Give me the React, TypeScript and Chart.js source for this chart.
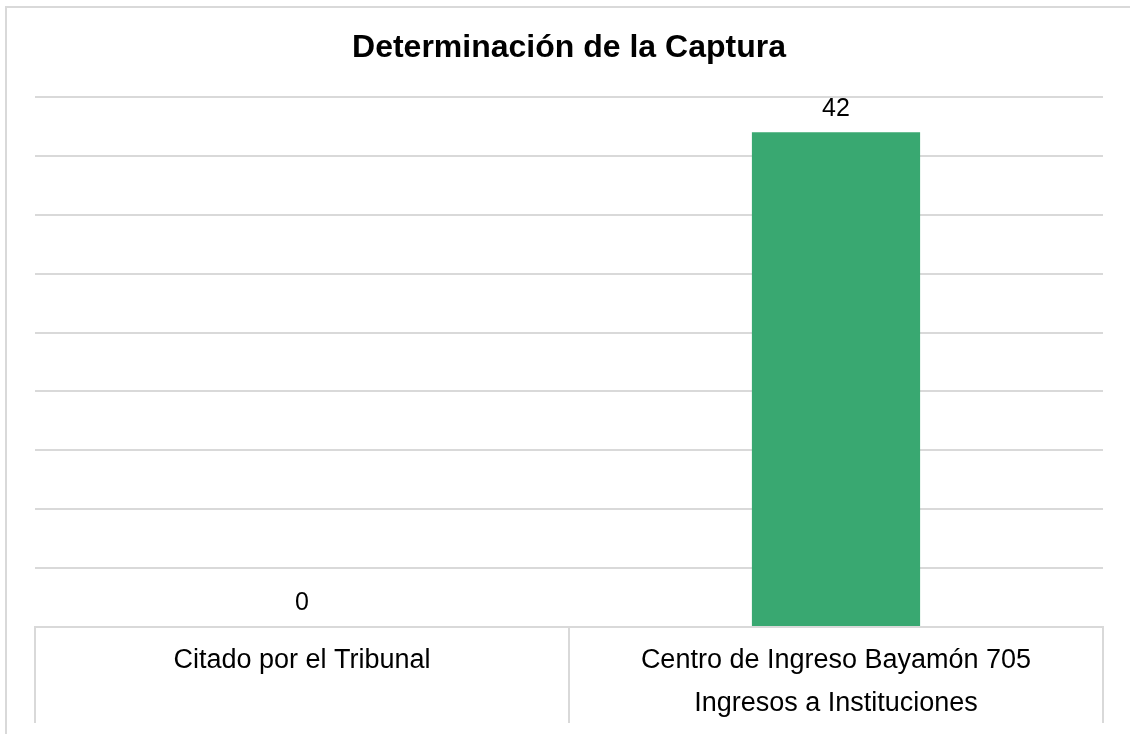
import React, { useEffect, useRef } from "react";
import { Chart, registerables } from "chart.js";

Chart.register(...registerables);

const TITLE = "Determinación de la Captura";
const categories: string[][] = [
  ["Citado por el Tribunal"],
  ["Centro de Ingreso Bayamón 705", "Ingresos a Instituciones"],
];
const values: number[] = [0, 42];
const Y_MIN = 0;
const Y_MAX = 45;
const Y_STEP = 5;

const FONT = "'Liberation Sans', Arial, sans-serif";
const GRID = "#d9d9d9";
const BAR = "rgb(57,168,113)";

const valueLabels = {
  id: "valueLabels",
  afterDatasetsDraw(chart: any) {
    const ctx = chart.ctx;
    const meta = chart.getDatasetMeta(0);
    ctx.save();
    ctx.font = `25px ${FONT}`;
    ctx.fillStyle = "#000";
    ctx.textAlign = "center";
    ctx.textBaseline = "bottom";
    meta.data.forEach((el: any, i: number) => {
      ctx.fillText(String(chart.data.datasets[0].data[i]), el.x, el.y - 11);
    });
    ctx.restore();
  },
};

export default function App() {
  const ref = useRef<HTMLCanvasElement | null>(null);
  useEffect(() => {
    if (!ref.current) return;
    const chart = new Chart(ref.current, {
      type: "bar",
      data: {
        labels: categories,
        datasets: [
          {
            data: values,
            backgroundColor: BAR,
            borderWidth: 0,
            barPercentage: 0.315,
            categoryPercentage: 1,
          },
        ],
      },
      options: {
        responsive: false,
        animation: false,
        layout: { padding: { left: 35, right: 27, top: 0, bottom: 0 } },
        plugins: {
          legend: { display: false },
          tooltip: { enabled: false },
          title: {
            display: true,
            text: TITLE,
            color: "#000",
            font: { family: FONT, size: 32, weight: "bold" },
            padding: { top: 28.5, bottom: 30 },
          },
        },
        scales: {
          x: {
            offset: true,
            grid: {
              offset: true,
              drawOnChartArea: false,
              drawTicks: true,
              tickLength: 96,
              color: GRID,
              lineWidth: 2,
            },
            border: { display: true, color: GRID, width: 2 },
            ticks: {
              color: "#000",
              padding: -84,
              maxRotation: 0,
              autoSkip: false,
              font: { family: FONT, size: 27, lineHeight: 1.6 },
            },
            afterFit(scale: any) {
              scale.height = 107;
            },
          },
          y: {
            min: Y_MIN,
            max: Y_MAX,
            ticks: { display: false, stepSize: Y_STEP },
            grid: { color: GRID, lineWidth: 2, drawTicks: false },
            border: { display: false },
            afterFit(scale: any) {
              scale.width = 0;
            },
          },
        },
      },
      plugins: [valueLabels],
    });
    return () => chart.destroy();
  }, []);

  return (
    <div style={{ position: "absolute", left: 0, top: 0, width: 1130, height: 734, background: "#fff", overflow: "hidden" }}>
      <div
        style={{
          position: "absolute",
          left: 5,
          top: 6,
          right: -10,
          bottom: -10,
          borderLeft: `2px solid ${GRID}`,
          borderTop: `2px solid ${GRID}`,
        }}
      />
      <canvas ref={ref} width={1130} height={734} style={{ position: "absolute", left: 0, top: 0, width: 1130, height: 734 }} />
    </div>
  );
}
